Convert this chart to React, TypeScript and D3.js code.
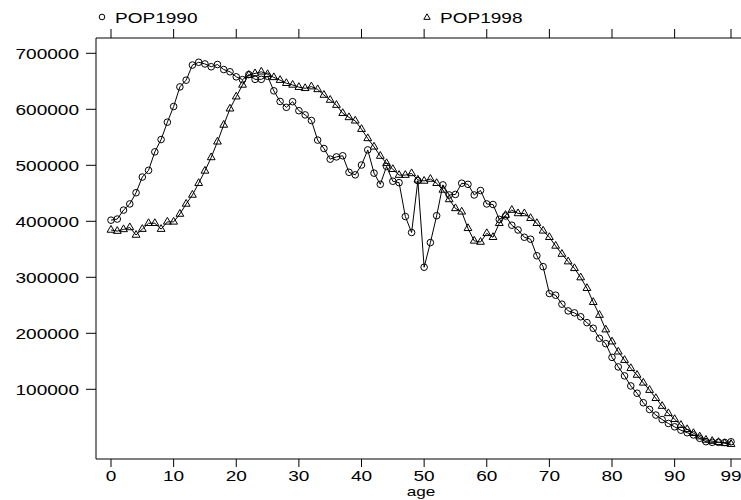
import React from "react";
import * as d3 from "d3";

const ages: number[] = d3.range(0, 100);

const pop1990: number[] = [
  402000, 404000, 420000, 431000, 451000, 479000, 491000, 524000, 546000, 577000,
  605000, 640000, 652000, 679000, 684000, 681000, 676000, 680000, 671000, 667000,
  658000, 653000, 662000, 653500, 653500, 659000, 633000, 614000, 603500, 613600,
  597500, 590000, 580000, 545000, 530000, 511000, 515000, 517000, 487500, 483000,
  500500, 527500, 486000, 466000, 498000, 471500, 469000, 408500, 380000, 472500,
  318000, 362000, 410000, 465000, 447000, 448000, 468000, 466000, 447000, 455000,
  431000, 430000, 403500, 409500, 393000, 384500, 371500, 368000, 338500, 319000,
  271000, 268000, 252000, 240000, 236500, 229500, 219000, 209000, 191000, 181500,
  157000, 140000, 124000, 106000, 93000, 76000, 64000, 54000, 46000, 39000,
  33000, 27000, 22500, 18500, 12500, 6500, 5300, 5300, 5000, 6300,
];

const pop1998: number[] = [
  384500, 382500, 385500, 389000, 375500, 386000, 396500, 396500, 386000, 399000,
  399000, 413000, 431000, 447000, 468000, 490000, 514000, 542000, 572000, 601000,
  622500, 643500, 661000, 664000, 667000, 662500, 657000, 652000, 646500, 643500,
  639500, 637500, 640500, 635500, 625500, 616500, 607500, 593000, 585500, 579500,
  564500, 548000, 533000, 516500, 503500, 493000, 482500, 482500, 485500, 474000,
  472000, 475500, 468000, 456000, 439000, 423000, 417000, 387500, 365000, 363000,
  378500, 371500, 396500, 411000, 420000, 414000, 414000, 405500, 396500, 383000,
  371500, 356000, 341500, 328000, 316000, 299500, 280500, 255500, 232500, 206500,
  185000, 167000, 152000, 137500, 125500, 111500, 98500, 84000, 70000, 57000,
  46500, 36000, 28500, 21500, 15500, 9500, 7500, 5500, 3500, 2000,
];

const xTicks: number[] = [0, 10, 20, 30, 40, 50, 60, 70, 80, 90, 99];
const yTicks: number[] = [100000, 200000, 300000, 400000, 500000, 600000, 700000];
const seriesNames: string[] = ["POP1990", "POP1998"];
const xTitle = "age";

const W = 741;
const H = 500;
const FONT = "'Liberation Sans', Arial, Helvetica, sans-serif";
const SX = 1.27;

function Txt({ x, y, anchor, size = 15, children }: { x: number; y: number; anchor: "start" | "middle" | "end"; size?: number; children: React.ReactNode }) {
  return (
    <g transform={`translate(${x},${y}) scale(${SX},1)`}>
      <text x={0} y={0} textAnchor={anchor} fontFamily={FONT} fontSize={size} fill="#000">
        {children}
      </text>
    </g>
  );
}

function triPath(cx: number, cy: number, s = 3.9) {
  const h = s * 1.732;
  return `M${cx},${cy - (h * 2) / 3}L${cx + s},${cy + h / 3}L${cx - s},${cy + h / 3}Z`;
}

export default function App() {
  const left = 96, right = 741, top = 38, bottom = 459;
  const x = d3.scaleLinear().domain([0, 99]).range([111, 731]);
  const y = d3.scaleLinear().domain([0, 700000]).range([445.3, 53.3]);

  const line = d3
    .line<number>()
    .x((_, i) => x(ages[i]))
    .y((d) => y(d));

  return (
    <svg width={W} height={H} style={{ position: "absolute", left: 0, top: 0, background: "#fff" }}>
      <rect x={0} y={0} width={W} height={H} fill="#fff" />
      {/* frame */}
      <line x1={left} y1={top} x2={left} y2={bottom} stroke="#000" strokeWidth={1} />
      <line x1={left} y1={top} x2={right} y2={top} stroke="#000" strokeWidth={1} />
      <line x1={left} y1={bottom} x2={right} y2={bottom} stroke="#000" strokeWidth={1} />

      {/* x ticks top & bottom */}
      {xTicks.map((t) => (
        <g key={"xt" + t}>
          <line x1={x(t)} x2={x(t)} y1={top - 9} y2={top} stroke="#000" />
          <line x1={x(t)} x2={x(t)} y1={bottom} y2={bottom + 8} stroke="#000" />
          <Txt x={x(t)} y={481} anchor="middle">{String(t)}</Txt>
        </g>
      ))}
      <Txt x={421} y={496.3} anchor="middle" size={13.5}>{xTitle}</Txt>

      {/* y ticks */}
      {yTicks.map((t) => (
        <g key={"yt" + t}>
          <line x1={left - 10} x2={left} y1={y(t)} y2={y(t)} stroke="#000" />
          <Txt x={79} y={y(t) + 5.5} anchor="end">{String(t)}</Txt>
        </g>
      ))}

      {/* legend */}
      <circle cx={102} cy={17} r={2.8} fill="none" stroke="#000" strokeWidth={1} />
      <Txt x={115} y={23} anchor="start">{seriesNames[0]}</Txt>
      <path d={triPath(427, 17.5, 3.2)} fill="none" stroke="#000" strokeWidth={1} />
      <Txt x={440} y={23} anchor="start">{seriesNames[1]}</Txt>

      {/* series */}
      <path d={line(pop1990) || ""} fill="none" stroke="#000" strokeWidth={1} />
      <path d={line(pop1998) || ""} fill="none" stroke="#000" strokeWidth={1} />
      {pop1990.map((v, i) => (
        <circle key={"c" + i} cx={x(ages[i])} cy={y(v)} r={3.3} fill="none" stroke="#000" strokeWidth={1} />
      ))}
      {pop1998.map((v, i) => (
        <path key={"t" + i} d={triPath(x(ages[i]), y(v))} fill="none" stroke="#000" strokeWidth={1} />
      ))}
    </svg>
  );
}
